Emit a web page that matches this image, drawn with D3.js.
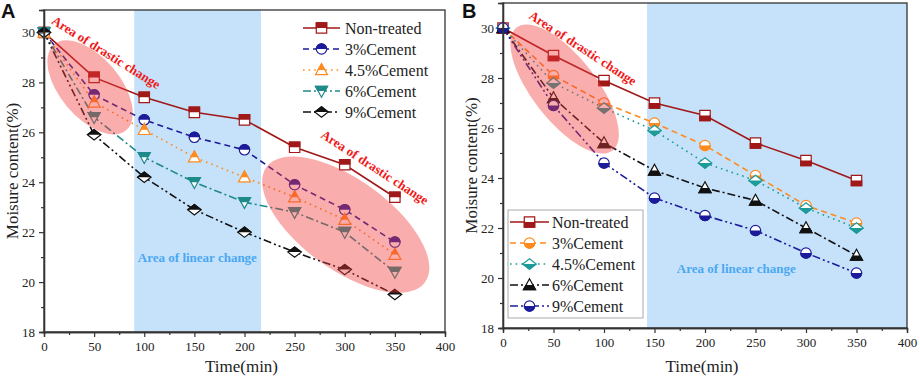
<!DOCTYPE html>
<html><head><meta charset="utf-8">
<script src="https://cdn.jsdelivr.net/npm/d3@7/dist/d3.min.js"></script>
<style>body{margin:0;background:#fff}svg{display:block}</style>
</head><body>
<svg id="c" width="920" height="380"></svg>
<script>
// ---------- data ----------
const times = [0, 50, 100, 150, 200, 250, 300, 350];
const xTicks = [0, 50, 100, 150, 200, 250, 300, 350, 400];
const yTicks = [18, 20, 22, 24, 26, 28, 30];
const seriesNames = ["Non-treated", "3%Cement", "4.5%Cement", "6%Cement", "9%Cement"];

// Panel A
const a_nonTreated = [30.0, 28.2, 27.4, 26.8, 26.5, 25.4, 24.7, 23.4];
const a_cement3    = [30.0, 27.5, 26.5, 25.8, 25.3, 23.9, 22.9, 21.6];
const a_cement45   = [30.0, 27.2, 26.1, 25.0, 24.2, 23.4, 22.5, 21.1];
const a_cement6    = [30.0, 26.6, 25.0, 24.0, 23.2, 22.8, 22.0, 20.4];
const a_cement9    = [30.0, 25.9, 24.2, 22.9, 22.0, 21.2, 20.5, 19.5];

// Panel B
const b_nonTreated = [30.0, 28.9, 27.9, 27.0, 26.5, 25.4, 24.7, 23.9];
const b_cement3    = [30.0, 28.1, 27.0, 26.2, 25.3, 24.1, 22.9, 22.2];
const b_cement45   = [30.0, 27.8, 26.8, 25.9, 24.6, 23.9, 22.8, 22.0];
const b_cement6    = [30.0, 27.2, 25.4, 24.3, 23.6, 23.1, 22.0, 20.9];
const b_cement9    = [30.0, 26.9, 24.6, 23.2, 22.5, 21.9, 21.0, 20.2];

// ---------- styles ----------
const dashes = [null, "6,4", "1.6,4", "8,3,2,3", "8,3,2,3,2,3"];
const colorsA = ["#a01818", "#1c1c9a", "#ff8a1e", "#1e8a8a", "#111111"];
const colorsB = ["#a01818", "#ff8a1e", "#1d9a9a", "#111111", "#1c1c9a"];
const shapesA = ["square", "circle", "triUp", "triDown", "diamond"];
const shapesB = ["square", "circle", "diamond", "triUp", "circle"];

function shapePath(s) {
  const r = 5.2;
  switch (s) {
    case "square": return `M${-r},${-r}H${r}V${r}H${-r}Z`;
    case "circle": return d3.symbol(d3.symbolCircle, 85)();
    case "triUp": return `M0,${-r-1}L${r+0.8},${r-0.5}L${-r-0.8},${r-0.5}Z`;
    case "triDown": return `M0,${r+1}L${r+0.8},${-r+0.5}L${-r-0.8},${-r+0.5}Z`;
    case "diamond": return `M0,${-r}L${r+1.5},0L0,${r}L${-r-1.5},0Z`;
  }
}

const svg = d3.select("#c");
const defs = svg.append("defs");
defs.append("clipPath").attr("id", "topHalf").append("rect")
  .attr("x", -12).attr("y", -12).attr("width", 24).attr("height", 12);
defs.append("clipPath").attr("id", "botHalf").append("rect")
  .attr("x", -12).attr("y", 0).attr("width", 24).attr("height", 12);

const serif = "'Liberation Serif','Times New Roman',serif";

function marker(g, x, y, shape, color, half) {
  const m = g.append("g").attr("transform", `translate(${x},${y})`);
  const p = shapePath(shape);
  m.append("path").attr("d", p).attr("fill", "#fff").attr("stroke", color).attr("stroke-width", 1.2);
  m.append("path").attr("d", p).attr("fill", color).attr("stroke", color).attr("stroke-width", 1.2)
    .attr("clip-path", `url(#${half})`);
}

function panel(cfg) {
  const x = d3.scaleLinear().domain([0, 400]).range([cfg.left, cfg.right]);
  const y = d3.scaleLinear().domain([18, cfg.yTop]).range([cfg.bottom, cfg.top]);
  const g = svg.append("g");

  // shaded linear region
  g.append("rect").attr("x", x(cfg.blue[0])).attr("y", cfg.top)
    .attr("width", x(cfg.blue[1]) - x(cfg.blue[0])).attr("height", cfg.bottom - cfg.top)
    .attr("fill", "#c6e2fa");

  // lines + markers
  cfg.series.forEach((vals, i) => {
    const line = d3.line().x((d, j) => x(times[j])).y(d => y(d));
    g.append("path").datum(vals).attr("d", line).attr("fill", "none")
      .attr("stroke", cfg.colors[i]).attr("stroke-width", 1.6)
      .attr("stroke-dasharray", dashes[i]);
  });
  cfg.series.forEach((vals, i) => {
    vals.forEach((v, j) => marker(g, x(times[j]), y(v), cfg.shapes[i], cfg.colors[i], cfg.half));
  });

  // ellipses (semi-transparent, on top)
  cfg.ellipses.forEach(e => {
    g.append("ellipse").attr("cx", x(e.cx)).attr("cy", y(e.cy))
      .attr("rx", e.rx).attr("ry", e.ry)
      .attr("transform", `rotate(${e.rot},${x(e.cx)},${y(e.cy)})`)
      .attr("fill", "rgb(240,60,60)").attr("fill-opacity", 0.42);
  });

  // annotations
  cfg.drastic.forEach(t => {
    g.append("text").attr("x", x(t.x)).attr("y", y(t.y))
      .attr("transform", `rotate(${t.rot},${x(t.x)},${y(t.y)})`)
      .attr("text-anchor", "middle").attr("dominant-baseline", "central")
      .attr("font-family", serif).attr("font-weight", "bold").attr("font-size", 13)
      .attr("fill", "#f01818").text("Area of drastic change");
  });
  g.append("text").attr("x", x(cfg.linear.x)).attr("y", y(cfg.linear.y))
    .attr("text-anchor", "middle").attr("dominant-baseline", "central")
    .attr("font-family", serif).attr("font-weight", "bold").attr("font-size", 13)
    .attr("fill", "#4aa8f2").text("Area of linear change");

  // frame
  g.append("rect").attr("x", cfg.left).attr("y", cfg.top)
    .attr("width", cfg.right - cfg.left).attr("height", cfg.bottom - cfg.top)
    .attr("fill", "none").attr("stroke", "#333").attr("stroke-width", 1.3);

  // axes
  const xa = g.append("g").attr("transform", `translate(0,${cfg.bottom})`)
    .call(d3.axisBottom(x).tickValues(xTicks).tickSize(5).tickPadding(5).tickFormat(d3.format("d")));
  const xm = g.append("g").attr("transform", `translate(0,${cfg.bottom})`)
    .call(d3.axisBottom(x).tickValues(d3.range(25, 400, 50)).tickSize(3).tickFormat(""));
  const ya = g.append("g").attr("transform", `translate(${cfg.left},0)`)
    .call(d3.axisLeft(y).tickValues(yTicks).tickSize(5).tickPadding(4).tickFormat(d3.format("d")));
  const ym = g.append("g").attr("transform", `translate(${cfg.left},0)`)
    .call(d3.axisLeft(y).tickValues(d3.range(19, 31, 2)).tickSize(3).tickFormat(""));
  [xa, xm, ya, ym].forEach(a => {
    a.select(".domain").attr("stroke", "#333").attr("stroke-width", 1.3);
    a.selectAll(".tick line").attr("stroke", "#333").attr("stroke-width", 1.2);
    a.selectAll("text").attr("font-family", serif).attr("font-size", 13).attr("fill", "#222");
  });

  // axis titles
  g.append("text").attr("x", (cfg.left + cfg.right) / 2 - 3).attr("y", 372)
    .attr("text-anchor", "middle").attr("font-family", serif).attr("font-size", 17)
    .attr("fill", "#222").text("Time(min)");
  g.append("text").attr("transform", `translate(${cfg.left - 32},${(cfg.top + cfg.bottom) / 2})rotate(-90)`)
    .attr("text-anchor", "middle").attr("dominant-baseline", "central")
    .attr("font-family", serif).attr("font-size", 17).attr("fill", "#222")
    .text("Moisure content(%)");

  // panel label
  svg.append("text").attr("x", cfg.labelX).attr("y", 18)
    .attr("font-family", "'Liberation Sans',Arial,sans-serif").attr("font-weight", "bold")
    .attr("font-size", 20).attr("fill", "#111").text(cfg.label);

  // legend
  const L = cfg.legend;
  if (L.box) {
    g.append("rect").attr("x", L.box[0]).attr("y", L.box[1]).attr("width", L.box[2]).attr("height", L.box[3])
      .attr("fill", "#fff").attr("stroke", "#aaa").attr("stroke-width", 1);
  }
  seriesNames.forEach((name, i) => {
    const yy = L.y0 + i * L.dy;
    g.append("line").attr("x1", L.x0).attr("x2", L.x1).attr("y1", yy).attr("y2", yy)
      .attr("stroke", cfg.colors[i]).attr("stroke-width", 1.6).attr("stroke-dasharray", dashes[i]);
    marker(g, (L.x0 + L.x1) / 2, yy, cfg.shapes[i], cfg.colors[i], cfg.half);
    g.append("text").attr("x", L.tx).attr("y", yy).attr("dominant-baseline", "central")
      .attr("font-family", serif).attr("font-size", 16).attr("fill", "#222").text(name);
  });
}

panel({
  label: "A", labelX: 1,
  left: 44, right: 445, top: 10, bottom: 332, yTop: 30.9,
  series: [a_nonTreated, a_cement3, a_cement45, a_cement6, a_cement9],
  colors: colorsA, shapes: shapesA, half: "topHalf",
  blue: [90, 216.5],
  ellipses: [
    {cx: 46, cy: 27.8, rx: 56, ry: 30, rot: 50},
    {cx: 301, cy: 22.3, rx: 98, ry: 45, rot: 36}
  ],
  drastic: [
    {x: 62, y: 29.2, rot: 32},
    {x: 330, y: 24.6, rot: 33}
  ],
  linear: {x: 153, y: 21.0},
  legend: {x0: 303, x1: 340, tx: 345, y0: 28, dy: 21}
});

panel({
  label: "B", labelX: 462,
  left: 503, right: 907, top: 3, bottom: 328, yTop: 31.0,
  series: [b_nonTreated, b_cement3, b_cement45, b_cement6, b_cement9],
  colors: colorsB, shapes: shapesB, half: "botHalf",
  blue: [142.6, 400],
  ellipses: [
    {cx: 61, cy: 27.56, rx: 78, ry: 32, rot: 52}
  ],
  drastic: [
    {x: 79, y: 29.2, rot: 33}
  ],
  linear: {x: 231, y: 20.4},
  legend: {box: [508, 210, 135, 108], x0: 510, x1: 549, tx: 552, y0: 222, dy: 21}
});
</script>
</body></html>
